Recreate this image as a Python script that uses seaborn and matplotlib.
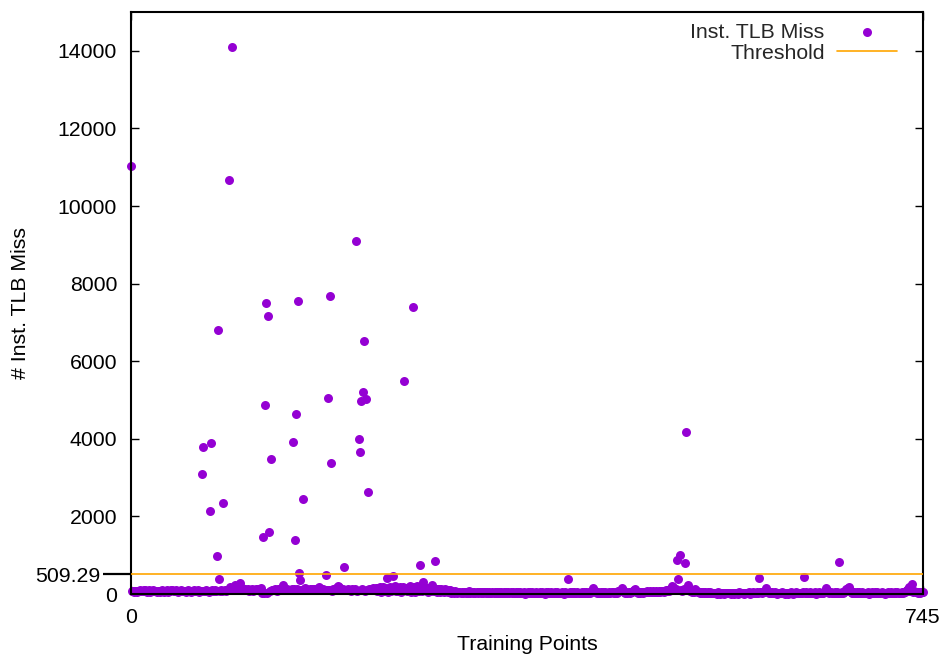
import numpy as np
import pandas as pd
import matplotlib
matplotlib.use("Agg")
import matplotlib.pyplot as plt
from matplotlib.ticker import NullLocator
import seaborn as sns

# Instruction TLB misses per training point (baseline level, in index blocks)
miss_000_149 = [
    60, 72, 85, 64, 90, 78, 55, 88, 95, 70,
    82, 66, 98, 105, 74, 60, 87, 92, 58, 80,
    76, 94, 68, 85, 62, 90, 73, 55, 84, 97,
    70, 63, 88, 79, 92, 58, 75, 86, 100, 108,
    82, 67, 91, 74, 60, 85, 78, 93, 66, 80,
    72, 89, 57, 83, 95, 70, 64, 88, 76, 92,
    68, 81, 74, 96, 62, 85, 77, 90, 71, 84,
    66, 93, 79, 58, 87, 74, 95, 69, 82, 102,
    88, 76, 92, 110, 84, 97, 72, 120, 105, 90,
    115, 98, 130, 180, 118, 108, 125, 100, 230, 140,
    112, 135, 170, 290, 150, 128, 104, 118, 96, 110,
    132, 88, 106, 94, 120, 85, 112, 98, 140, 125,
    104, 92, 150, 20, 86, 25, 70, 95, 18, 72,
    88, 65, 80, 110, 96, 120, 105, 88, 130, 115,
    98, 140, 160, 230, 150, 120, 105, 132, 95, 110,
]
miss_150_229 = [
    105, 130, 95, 118, 140, 100, 125, 112, 90, 135,
    115, 98, 128, 105, 142, 120, 92, 110, 135, 100,
    118, 96, 125, 108, 140, 112, 130, 180, 120, 98,
    110, 132, 100, 125, 95, 118, 105, 138, 112, 90,
    120, 105, 135, 150, 128, 200, 170, 110, 95, 122,
    100, 115, 92, 108, 125, 98, 112, 88, 130, 105,
    95, 118, 102, 90, 110, 85, 105, 120, 98, 112,
    88, 125, 100, 115, 132, 108, 140, 120, 150, 135,
]
miss_230_309 = [
    145, 70, 160, 95, 180, 60, 125, 170, 85, 155,
    110, 165, 55, 150, 190, 75, 160, 128, 200, 90,
    145, 68, 130, 185, 50, 148, 170, 88, 125, 160,
    72, 118, 195, 60, 150, 128, 175, 45, 120, 205,
    155, 80, 162, 140, 65, 300, 150, 95, 165, 58,
    150, 120, 70, 240, 145, 90, 155, 118, 62, 125,
    135, 55, 128, 100, 48, 120, 95, 115, 40, 105,
    92, 35, 85, 60, 30, 75, 52, 25, 58, 40,
]
miss_310_599 = [
    35, 58, 22, 45, 60, 28, 50, 38, 65, 25,
    42, 55, 30, 48, 20, 58, 35, 45, 62, 28,
    50, 18, 40, 55, 32, 46, 25, 60, 38, 22,
    48, 30, 55, 20, 42, 35, 58, 26, 45, 15,
    38, 52, 24, 44, 30, 50, 18, 40, 28, 46,
    22, 36, 48, 15, 42, 30, 50, 20, 38, 26,
    44, 12, 35, 48, 22, 40, 28, 52, 18, 36,
    30, 45, 15, 38, 25, 50, 20, 42, 32, 10,
    40, 26, 48, 18, 35, 55, 22, 38, 30, 45,
    15, 42, 28, 36, 20, 50, 32, 12, 44, 25,
    38, 24, 30, 46, 18, 40, 26, 52, 22, 35,
    45, 14, 38, 28, 48, 20, 42, 30, 55, 16,
    36, 44, 25, 50, 70, 160, 85, 40, 28, 46,
    20, 38, 52, 15, 42, 30, 48, 22, 36, 26,
    44, 18, 40, 55, 28, 35, 60, 24, 75, 90,
    65, 110, 160, 95, 50, 38, 45, 28, 52, 36,
    42, 60, 85, 110, 140, 80, 48, 35, 55, 30,
    46, 58, 38, 62, 44, 70, 52, 40, 66, 48,
    56, 72, 45, 60, 78, 50, 64, 82, 58, 70,
    88, 62, 75, 95, 68, 110, 85, 120, 100, 215,
    180, 140, 95, 120, 110, 90, 100, 110, 80, 95,
    130, 85, 105, 150, 230, 120, 90, 70, 55, 80,
    60, 130, 75, 45, 62, 38, 55, 30, 48, 25,
    42, 20, 35, 50, 18, 40, 28, 15, 36, 22,
    30, 12, 40, 25, 8, 35, 18, 28, 10, 32,
    22, 15, 38, 20, 10, 30, 25, 12, 35, 18,
    28, 8, 40, 22, 15, 32, 20, 10, 38, 25,
    18, 42, 12, 30, 22, 50, 15, 35, 28, 45,
    30, 30, 60, 40, 25, 52, 80, 145, 90, 48,
]
miss_600_745 = [
    35, 55, 22, 45, 30, 18, 40, 25, 12, 38,
    28, 15, 42, 20, 32, 10, 36, 24, 8, 30,
    18, 40, 26, 12, 35, 22, 45, 15, 30, 20,
    38, 25, 50, 30, 28, 42, 18, 35, 22, 48,
    15, 32, 26, 40, 12, 36, 20, 44, 28, 18,
    38, 25, 60, 90, 145, 110, 55, 30, 42, 22,
    35, 18, 40, 28, 50, 15, 30, 32, 22, 45,
    30, 55, 80, 120, 160, 190, 100, 60, 38, 25,
    42, 18, 35, 50, 22, 40, 28, 15, 45, 30,
    20, 38, 25, 48, 12, 35, 22, 42, 30, 18,
    40, 26, 52, 15, 36, 28, 45, 20, 32, 10,
    38, 24, 48, 18, 30, 42, 22, 35, 15, 40,
    28, 50, 20, 36, 25, 44, 30, 55, 40, 70,
    95, 130, 170, 90, 70, 265, 60, 90, 60, 45,
    35, 55, 28, 40, 60, 45,
]

# Training points with large miss counts
spike_points = [0, 67, 68, 74, 75, 81, 82, 83, 87, 92, 95, 124, 126, 127,
                129, 130, 132, 152, 154, 155, 157, 158, 159, 162, 183, 185,
                187, 188, 200, 212, 214, 215, 216, 218, 219, 221, 223, 241,
                246, 257, 265, 272, 286, 411, 514, 515, 516, 521, 522, 591,
                633, 666]
spike_values = [11020, 3080, 3800, 2150, 3900, 970, 6810, 390, 2340, 10680,
                14100, 1475, 4860, 7510, 7175, 1590, 3470, 3910, 1380, 4630,
                7560, 535, 350, 2460, 490, 5040, 7690, 3380, 695, 9110, 4000,
                3650, 4970, 5200, 6510, 5020, 2630, 410, 460, 5480, 7400, 745,
                855, 385, 875, 385, 1000, 800, 4180, 410, 440, 825]

threshold = 509.29
x_ticks = [0, 745]
y_ticks = [0, 2000, 4000, 6000, 8000, 10000, 12000, 14000]

misses = miss_000_149 + miss_150_229 + miss_230_309 + miss_310_599 + miss_600_745
for p, v in zip(spike_points, spike_values):
    misses[p] = v
df = pd.DataFrame({"point": np.arange(len(misses)), "miss": misses})
thr = pd.DataFrame({"point": [x_ticks[0], x_ticks[-1]], "miss": [threshold, threshold]})

sns.set_theme(style="white")
plt.rcParams["font.family"] = ["Liberation Sans", "DejaVu Sans"]
FS = 15.3

fig = plt.figure(figsize=(9.45, 6.59), dpi=100)
ax = fig.add_axes([131 / 945, 65 / 659, 792 / 945, 582 / 659])

sns.scatterplot(data=df, x="point", y="miss", ax=ax, color="#9400d3", s=42,
                linewidth=0, label="Inst. TLB Miss", clip_on=False, zorder=2)
sns.lineplot(data=thr, x="point", y="miss", ax=ax, color="#ffa500", lw=1.2,
             label="Threshold", zorder=3)

ax.set_xlim(x_ticks[0], x_ticks[-1])
ax.set_ylim(0, 15000)
ax.set_xticks(x_ticks)
ax.set_yticks(y_ticks)
ax.xaxis.set_minor_locator(NullLocator())
ax.set_yticks([threshold], labels=[f"{threshold:.2f}"], minor=True)

ax.tick_params(which="major", direction="in", length=6, width=1, color="black",
               labelsize=FS, labelcolor="black", pad=10, top=True, right=True,
               bottom=True, left=True)
ax.tick_params(axis="y", which="minor", direction="out", length=20, width=1.6,
               color="black", labelsize=FS, labelcolor="black", pad=2,
               left=True, right=False)

for sp in ax.spines.values():
    sp.set_color("black")
    sp.set_linewidth(1.5)
    sp.set_visible(True)

ax.set_xlabel("Training Points", fontsize=FS, color="black")
ax.set_ylabel("# Inst. TLB Miss", fontsize=FS, color="black")
ax.xaxis.set_label_coords(0.5, -0.07)
ax.yaxis.set_label_coords(-0.127, 0.5)

leg = ax.legend(loc="upper right", bbox_to_anchor=(897 / 945, 0.965),
                bbox_transform=fig.transFigure, frameon=False, markerfirst=False,
                fontsize=FS, handlelength=2.8, handletextpad=0.6,
                labelspacing=0.08, borderpad=0, borderaxespad=0, scatterpoints=1)

fig.savefig("out.png", dpi=100)
